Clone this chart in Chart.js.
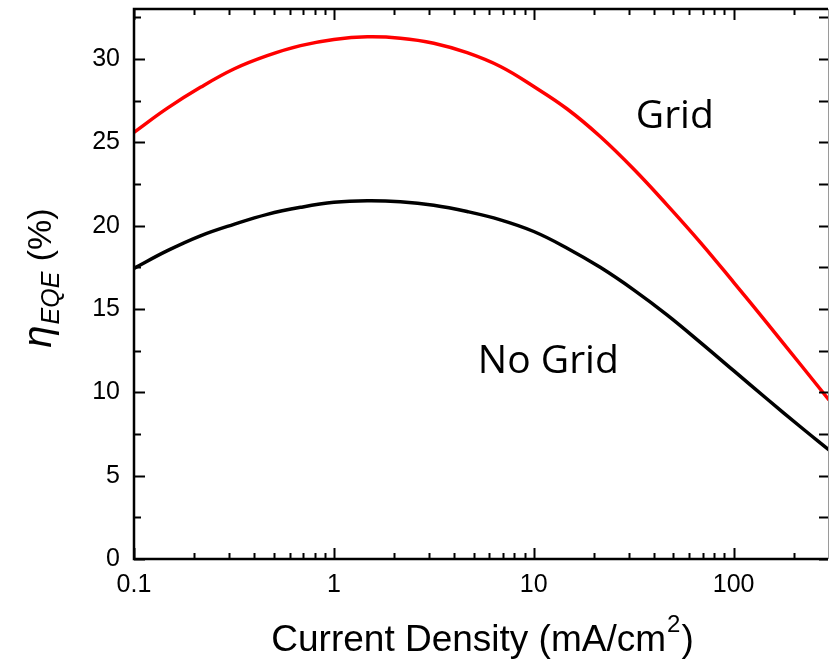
<!DOCTYPE html>
<html>
<head>
<meta charset="utf-8">
<script src="https://cdn.jsdelivr.net/npm/chart.js@4/dist/chart.umd.min.js"></script>
<style>
  html, body { margin: 0; padding: 0; background: #fff; }
  #wrap { width: 829px; height: 662px; position: relative; }
</style>
</head>
<body>
<div id="wrap"><canvas id="c"></canvas></div>
<script>
// Current density samples (mA/cm^2), six per decade, shared by both curves
const currentDensity = [0.1, 0.147, 0.215, 0.316, 0.464, 0.681, 1, 1.47, 2.15, 3.16, 4.64, 6.81, 10, 14.7, 21.5, 31.6, 46.4, 68.1, 100, 147, 215, 300];
// External quantum efficiency (%) with the metal grid
const eqeGrid = [25.6, 27.05, 28.3, 29.4, 30.2, 30.8, 31.17, 31.33, 31.25, 30.95, 30.38, 29.55, 28.35, 27.0, 25.35, 23.4, 21.25, 19.0, 16.6, 14.15, 11.7, 9.54];
// External quantum efficiency (%) without the grid
const eqeNoGrid = [17.44, 18.5, 19.39, 20.08, 20.68, 21.1, 21.4, 21.5, 21.44, 21.23, 20.85, 20.35, 19.65, 18.65, 17.5, 16.15, 14.65, 13.0, 11.3, 9.6, 7.95, 6.54];

// Axis ticks
const xMajorTicks = [0.1, 1, 10, 100];
const xMinorTicks = [0.2, 0.3, 0.4, 0.5, 0.6, 0.7, 0.8, 0.9, 2, 3, 4, 5, 6, 7, 8, 9, 20, 30, 40, 50, 60, 70, 80, 90, 200];
const yMajorTicks = [0, 5, 10, 15, 20, 25, 30];
const yMinorTicks = [2.5, 7.5, 12.5, 17.5, 22.5, 27.5, 32.5];

// Curve labels, placed in data coordinates (left edge, baseline)
const curveLabels = ['Grid', 'No Grid'];
const curveLabelX = [32.4, 5.25];
const curveLabelY = [25.85, 11.15];

const toPoints = (xs, ys) => xs.map((x, i) => ({ x: x, y: ys[i] }));
const tickFont = { family: "'Liberation Sans', Arial, sans-serif", size: 25 };

// Inward tick marks on all four sides, a closed frame, axis titles and curve labels
const framePlugin = {
  id: 'frame',
  afterDraw(chart) {
    const ctx = chart.ctx;
    const a = chart.chartArea;
    const xs = chart.scales.x, ys = chart.scales.y;
    const right = a.right - 1;
    ctx.save();
    ctx.strokeStyle = '#000';
    ctx.lineWidth = 2;
    ctx.lineCap = 'butt';
    const tick = (x1, y1, x2, y2) => { ctx.beginPath(); ctx.moveTo(x1, y1); ctx.lineTo(x2, y2); ctx.stroke(); };
    xs.ticks.forEach(t => {
      const px = Math.round(xs.getPixelForValue(t.value)) + 0.5;
      const len = t.major ? 11 : 6;
      tick(px, a.bottom, px, a.bottom - len);
      tick(px, a.top, px, a.top + len);
    });
    ys.ticks.forEach(t => {
      const py = Math.round(ys.getPixelForValue(t.value)) + 0.5;
      const len = t.major ? 11 : 7;
      tick(a.left, py, a.left + len, py);
      tick(right, py, right - 9, py);
    });
    // frame
    ctx.lineWidth = 2.5;
    ctx.beginPath();
    ctx.moveTo(right, a.top);
    ctx.lineTo(a.left, a.top);
    ctx.lineTo(a.left, a.bottom);
    ctx.lineTo(right, a.bottom);
    ctx.stroke();
    ctx.strokeStyle = '#9a9a9a';
    ctx.lineWidth = 1;
    ctx.beginPath();
    ctx.moveTo(a.right - 0.5, a.top);
    ctx.lineTo(a.right - 0.5, a.bottom);
    ctx.stroke();

    ctx.fillStyle = '#000';
    // x title with superscript
    const mainFont = "37px 'Liberation Sans', Arial, sans-serif";
    const supFont = "24px 'Liberation Sans', Arial, sans-serif";
    const t1 = 'Current Density (mA/cm', t2 = '2', t3 = ')';
    ctx.font = mainFont; const w1 = ctx.measureText(t1).width, w3 = ctx.measureText(t3).width;
    ctx.font = supFont; const w2 = ctx.measureText(t2).width;
    let x0 = (a.left + a.right) / 2 - (w1 + w2 + w3) / 2;
    const base = 651;
    ctx.textBaseline = 'alphabetic';
    ctx.textAlign = 'left';
    ctx.font = mainFont; ctx.fillText(t1, x0, base);
    ctx.font = supFont; ctx.fillText(t2, x0 + w1 + 1, base - 19);
    ctx.font = mainFont; ctx.fillText(t3, x0 + w1 + w2 + 2, base);

    // y title: italic eta with italic subscript EQE, rotated
    ctx.save();
    ctx.translate(51, 0);
    ctx.rotate(-Math.PI / 2);
    const etaFont = "italic 40px 'Liberation Sans', Arial, sans-serif";
    const subFont = "italic 25px 'Liberation Sans', Arial, sans-serif";
    const pctFont = "34px 'Liberation Sans', Arial, sans-serif";
    const s1 = '\u03B7', s2 = 'EQE', s3 = ' (%)';
    ctx.font = etaFont; const v1 = ctx.measureText(s1).width;
    ctx.font = subFont; const v2 = ctx.measureText(s2).width;
    ctx.font = pctFont; const v3 = ctx.measureText(s3).width;
    const cy = 279;
    let start = -cy - (v1 + v2 + v3) / 2;
    ctx.font = etaFont; ctx.fillText(s1, start, 0);
    ctx.font = subFont; ctx.fillText(s2, start + v1 + 1, 8);
    ctx.font = pctFont; ctx.fillText(s3, start + v1 + v2 + 2, 0);
    ctx.restore();

    // curve labels
    ctx.font = "39px 'Open Sans', 'Noto Sans', sans-serif";
    curveLabels.forEach((txt, i) => {
      ctx.fillText(txt, xs.getPixelForValue(curveLabelX[i]), ys.getPixelForValue(curveLabelY[i]));
    });
    ctx.restore();
  }
};

new Chart(document.getElementById('c'), {
  type: 'line',
  data: {
    datasets: [
      {
        label: 'Grid',
        data: toPoints(currentDensity, eqeGrid),
        borderColor: '#ff0000',
        borderWidth: 3.5,
        pointRadius: 0,
        tension: 0.4,
        fill: false
      },
      {
        label: 'No Grid',
        data: toPoints(currentDensity, eqeNoGrid),
        borderColor: '#000000',
        borderWidth: 3.5,
        pointRadius: 0,
        tension: 0.4,
        fill: false
      }
    ]
  },
  options: {
    responsive: true,
    maintainAspectRatio: false,
    animation: false,
    events: [],
    layout: { padding: { top: 9, right: 0, left: 0, bottom: 0 } },
    plugins: { legend: { display: false }, tooltip: { enabled: false }, title: { display: false } },
    scales: {
      x: {
        type: 'logarithmic',
        min: 0.1,
        max: 300,
        afterBuildTicks(scale) {
          scale.ticks = xMajorTicks.map(v => ({ value: v, major: true }))
            .concat(xMinorTicks.map(v => ({ value: v, major: false })))
            .sort((p, q) => p.value - q.value);
        },
        afterFit(scale) {
          scale.height = 103;
          scale.paddingLeft = 0; scale.paddingRight = 0;
        },
        ticks: {
          autoSkip: false,
          maxRotation: 0,
          minRotation: 0,
          padding: 11,
          color: '#000',
          font: tickFont,
          callback: (v) => xMajorTicks.includes(v) ? String(v) : ''
        },
        grid: { display: false, drawTicks: false },
        border: { display: false }
      },
      y: {
        type: 'linear',
        min: 0,
        max: 33,
        afterBuildTicks(scale) {
          scale.ticks = yMajorTicks.map(v => ({ value: v, major: true }))
            .concat(yMinorTicks.map(v => ({ value: v, major: false })))
            .sort((p, q) => p.value - q.value);
        },
        afterFit(scale) {
          scale.width = 134;
          scale.paddingTop = 0; scale.paddingBottom = 0;
        },
        ticks: {
          autoSkip: false,
          padding: 14,
          color: '#000',
          font: tickFont,
          callback: (v) => yMajorTicks.includes(v) ? String(v) : ''
        },
        grid: { display: false, drawTicks: false },
        border: { display: false }
      }
    }
  },
  plugins: [framePlugin]
});
</script>
</body>
</html>
